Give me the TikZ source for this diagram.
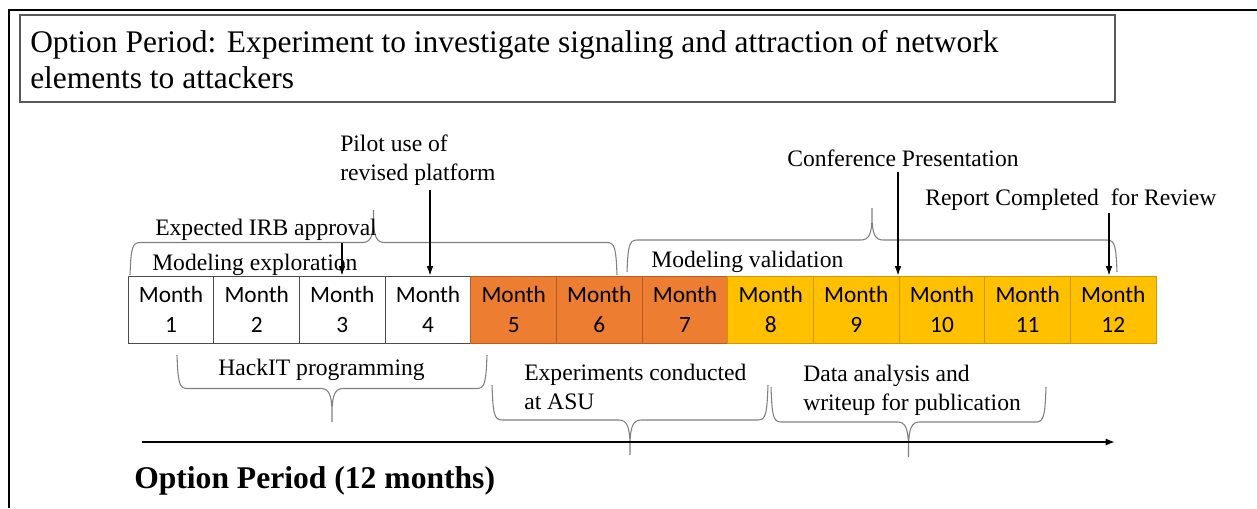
\documentclass[tikz,border=0pt]{standalone}
\usepackage{fontspec}
\setmainfont{Liberation Serif}
\newfontfamily\cellfont{Carlito}
\usetikzlibrary{arrows.meta}
\definecolor{monthorange}{HTML}{ED7D31}
\definecolor{monthgold}{HTML}{FFC000}
\tikzset{
  style plain/.style={
    fill=white,
    draw=black!70,
  },
  style orange/.style={
    fill=monthorange,
    draw=monthorange!75!black,
  },
  style gold/.style={
    fill=monthgold,
    draw=monthgold!80!black,
  },
  cell/.style={
    minimum width=64.25pt,
    minimum height=50.25pt,
    inner sep=0pt,
    align=center,
    line width=0.75pt,
    font=\cellfont\fontsize{17.5}{22}\selectfont,
    #1
  },
  brace line/.style={
    draw=black!50,
    line width=0.8pt
  },
  pics/curly/.style 2 args={
    code={
      \draw [brace line] (0,0) .. controls (1,{0.8*#2}) and (2,{#2}) .. (10,{#2})
        -- ({#1/2-11},{#2})
        .. controls ({#1/2-3},{#2}) and ({#1/2-0.5},{1.2*#2}) .. ({#1/2},{1.65*#2})
        -- ({#1/2},{2*#2}) -- ({#1/2},{1.65*#2})
        .. controls ({#1/2+0.5},{1.2*#2}) and ({#1/2+3},{#2}) .. ({#1/2+11},{#2})
        -- ({#1-10},{#2})
        .. controls ({#1-2},{#2}) and ({#1-1},{0.8*#2}) .. (#1,0) ;
    }
  },
  label text/.style={
    anchor=base west,
    inner sep=0pt,
    align=left,
    font=\fontsize{17.7}{21.75}\selectfont
  },
  pointer/.style={
    -{Latex[length=7pt,width=5pt]},
    line width=0.9pt
  }
}

\begin{document}
\begin{tikzpicture}[x=0.75pt,y=0.75pt,yscale=-1,xscale=1]
\useasboundingbox (0,0) rectangle (1257,508);

%Frame
\draw [line width=1.5pt]  (9,508) -- (9,10) -- (1257,10) ;
%Shape: Rectangle [title box]
\draw [color=black!65 ,line width=1.1pt]  (20,15) rectangle (1115,102) ;
% Text Node
\node (title) [anchor=base west,inner sep=0pt,align=left,font=\fontsize{23.6}{27}\selectfont] at (30,88) {Option Period: Experiment to investigate signaling and attraction of network\\elements to attackers};

%Month cells
\node (m1) [cell=style plain] at (171,309.5) {Month\\1};
\node (m2) [cell=style plain] at (256.7,309.5) {Month\\2};
\node (m3) [cell=style plain] at (342.3,309.5) {Month\\3};
\node (m4) [cell=style plain] at (428,309.5) {Month\\4};
\node (m5) [cell=style orange] at (513.7,309.5) {Month\\5};
\node (m6) [cell=style orange] at (599.3,309.5) {Month\\6};
\node (m7) [cell=style orange] at (685,309.5) {Month\\7};
\node (m8) [cell=style gold] at (770.7,309.5) {Month\\8};
\node (m9) [cell=style gold] at (856.3,309.5) {Month\\9};
\node (m10) [cell=style gold] at (942,309.5) {Month\\10};
\node (m11) [cell=style gold] at (1027.7,309.5) {Month\\11};
\node (m12) [cell=style gold] at (1113.3,309.5) {Month\\12};

%Braces above
\pic at (130,275) {curly={487}{32.5}};
\pic at (627,272) {curly={490}{32}};
%Braces below
\pic at (177,355) {curly={310}{-33.5}};
\pic at (492,385) {curly={276}{-35}};
\pic at (771,387) {curly={275}{-35}};

% Text Node
\node (explore) [label text] at (152,270) {Modeling exploration};
% Text Node
\node (irb) [label text] at (155,235) {Expected IRB approval};
% Text Node
\node (pilot) [label text] at (340,180) {Pilot use of\\revised platform};
% Text Node
\node (conf) [label text] at (787,166) {Conference Presentation};
% Text Node
\node (report) [label text] at (925,205) {Report Completed\ \ for Review};
% Text Node
\node (valid) [label text] at (651,267) {Modeling validation};
% Text Node
\node (hack) [label text] at (218,375) {HackIT programming};
% Text Node
\node (asu) [label text] at (524,409) {Experiments conducted\\at ASU};
% Text Node
\node (data) [label text] at (803,410) {Data analysis and\\writeup for publication};

%Milestone pointers
\coordinate (irbtail) at (342,243);
\coordinate (pilottail) at (430,190);
\coordinate (conftail) at (898,172);
\coordinate (reporttail) at (1109,213);
\draw [pointer] (irbtail) -- (irbtail |- m3.north) ;
\draw [pointer] (pilottail) -- (pilottail |- m4.north) ;
\draw [pointer] (conftail) -- (conftail |- m10.north) ;
\draw [pointer] (reporttail) -- (reporttail |- m12.north) ;

%Time axis
\coordinate (axisstart) at (142,442);
\coordinate (axisend) at (1115,442);
\draw [-{Latex[length=7pt,width=5.5pt]},line width=1.5pt] (axisstart) -- (axisend) ;
% Text Node
\node (period) [anchor=base west,inner sep=0pt,font=\bfseries\fontsize{23.7}{28}\selectfont] at (134,488) {Option Period (12 months)};

\end{tikzpicture}
\end{document}
